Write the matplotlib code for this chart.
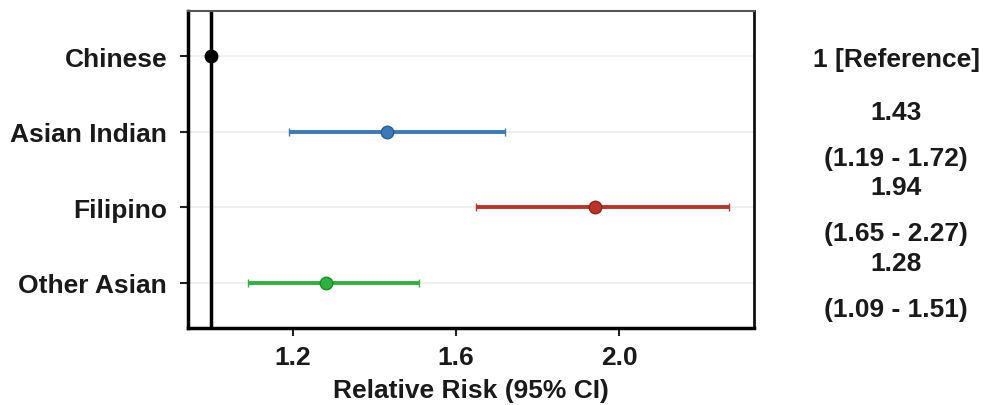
import matplotlib
matplotlib.use("Agg")
from matplotlib import pyplot as plt
from matplotlib.transforms import blended_transform_factory, offset_copy

# data
groups = ["Chinese", "Asian Indian", "Filipino", "Other Asian"]
rr = [1.00, 1.43, 1.94, 1.28]
ci_low = [1.00, 1.19, 1.65, 1.09]
ci_high = [1.00, 1.72, 2.27, 1.51]
colors = ["#000000", "#3b7ab8", "#bd3226", "#2bb33b"]
edge_colors = ["#000000", "#2c5d8f", "#8e241c", "#1f8a2c"]
right_labels = ["1 [Reference]", "1.43\n(1.19 - 1.72)", "1.94\n(1.65 - 2.27)", "1.28\n(1.09 - 1.51)"]
xticks = [1.2, 1.6, 2.0]

plt.rcParams["font.family"] = ["Liberation Sans", "DejaVu Sans"]
plt.rcParams["font.weight"] = "bold"
fs = 19
txt_color = "#1a1a1a"

fig = plt.figure(figsize=(9.98, 4.06), dpi=100)
ax = fig.add_axes([0.1884, 0.1897, 0.567, 0.781])

ypos = list(range(1, len(groups) + 1))

# light horizontal grid
for y in ypos:
    ax.axhline(y, color="#ececec", lw=1.2, zorder=0)

# reference line
ax.axvline(1.0, color="black", lw=2.5, zorder=1)

for y, m, lo, hi, c, ec in zip(ypos, rr, ci_low, ci_high, colors, edge_colors):
    ax.errorbar(m, y, xerr=[[m - lo], [hi - m]], fmt="o", color=c, ecolor=c,
                elinewidth=2.8, capsize=3, capthick=2, markersize=9,
                markeredgecolor=ec, markeredgewidth=1, zorder=3)

ax.set_xlim(0.943, 2.33)
ax.set_ylim(4.6, 0.4)
ax.set_yticks(ypos)
ax.set_yticklabels(groups, fontsize=fs, fontweight="bold", color=txt_color)
ax.set_xticks(xticks)
ax.set_xticklabels([f"{t:.1f}" for t in xticks], fontsize=fs, fontweight="bold", color=txt_color)
ax.tick_params(axis="both", length=6, width=1.5, color="#222222")
ax.tick_params(axis="y", pad=9)
ax.tick_params(axis="x", pad=6)

ax.set_xlabel("Relative Risk (95% CI)", fontsize=fs, fontweight="bold", labelpad=7, color=txt_color)

for side in ["left", "bottom"]:
    ax.spines[side].set_linewidth(2.5)
    ax.spines[side].set_color("black")
ax.spines["right"].set_linewidth(2)
ax.spines["right"].set_color("#111111")
ax.spines["top"].set_linewidth(1.5)
ax.spines["top"].set_color("#555555")

# right-hand estimate text
trans = blended_transform_factory(fig.transFigure, ax.transData)
trans = offset_copy(trans, fig=fig, y=-3, units="dots")
for y, lab in zip(ypos, right_labels):
    ax.text(0.898, y, lab, transform=trans, ha="center", va="center",
            fontsize=fs, fontweight="bold", linespacing=2.15,
            color=txt_color, clip_on=False)

fig.savefig("out.png", dpi=100)
